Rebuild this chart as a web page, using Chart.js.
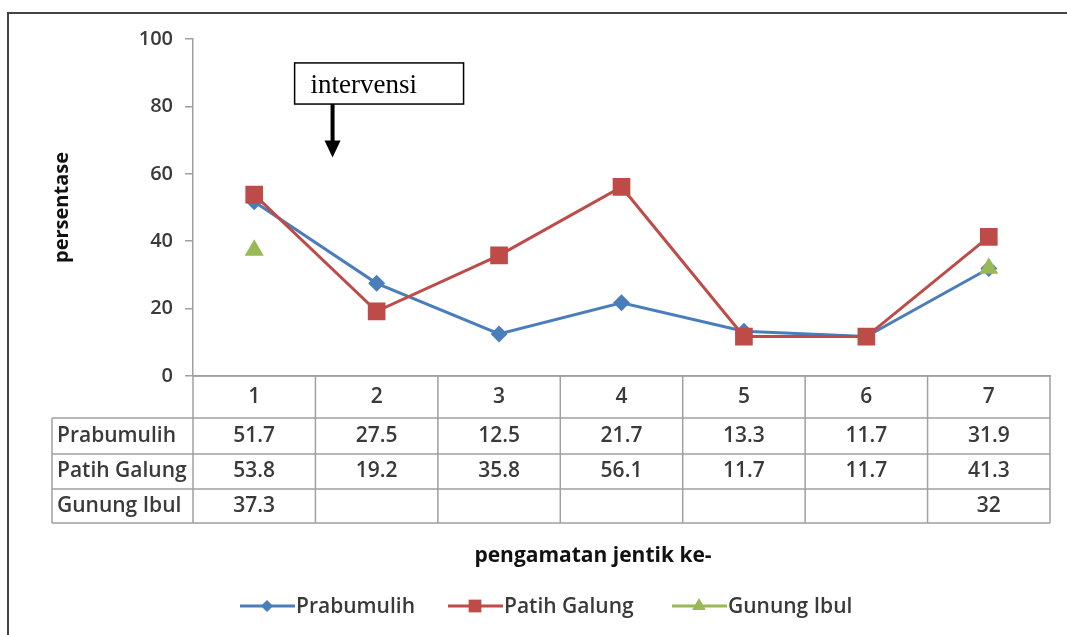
<!DOCTYPE html>
<html lang="en">
<head>
<meta charset="UTF-8">
<title>Persentase pengamatan jentik</title>
<script src="https://cdn.jsdelivr.net/npm/chart.js"></script>
<style>
  html, body { margin: 0; padding: 0; background: #fff; }
  #wrap { width: 1067px; height: 635px; }
</style>
</head>
<body>
<div id="wrap"><canvas id="chart" width="1067" height="635"></canvas></div>
<script>
// data
const categories = ['1', '2', '3', '4', '5', '6', '7'];
const seriesNames = ['Prabumulih', 'Patih Galung', 'Gunung Ibul'];
const prabumulih = [51.7, 27.5, 12.5, 21.7, 13.3, 11.7, 31.9];
const patihGalung = [53.8, 19.2, 35.8, 56.1, 11.7, 11.7, 41.3];
const gunungIbul = [37.3, null, null, null, null, null, 32];
const yTicks = [0, 20, 40, 60, 80, 100];

const FONT = '"Open Sans", Lato, sans-serif';
const TEXT = '#3a3a3a';
const colors = ['#4A7EBB', '#BE4B48', '#98B954'];
const styles = [
    { pointStyle: 'rectRot', radius: 8.5 },
    { pointStyle: 'rect', radius: 12.5 },
    { pointStyle: 'triangle', radius: 11 }
];
const allSeries = [prabumulih, patihGalung, gunungIbul];

// frame, annotation, data table, axis titles and legend
const extras = {
    id: 'extras',
    afterDraw(chart) {
        const ctx = chart.ctx;
        const area = chart.chartArea;
        const xs = chart.scales.x;
        const ys = chart.scales.y;
        const step = (area.right - area.left) / categories.length;
        ctx.save();

        // outer frame
        ctx.strokeStyle = '#444';
        ctx.lineWidth = 2;
        ctx.strokeRect(8, 13, 1100, 700);

        // intervensi box + arrow
        const bx1 = xs.getPixelForValue(0.33), bx2 = xs.getPixelForValue(1.71);
        const by1 = ys.getPixelForValue(92.9), by2 = ys.getPixelForValue(80.7);
        ctx.fillStyle = '#fff';
        ctx.fillRect(bx1, by1, bx2 - bx1, by2 - by1);
        ctx.strokeStyle = '#000';
        ctx.lineWidth = 1.5;
        ctx.strokeRect(bx1, by1, bx2 - bx1, by2 - by1);
        ctx.fillStyle = '#000';
        ctx.font = '27px "Liberation Serif", "DejaVu Serif", serif';
        ctx.textBaseline = 'middle';
        ctx.textAlign = 'left';
        ctx.fillText('intervensi', bx1 + 16, (by1 + by2) / 2 + 2);
        const ax = xs.getPixelForValue(0.64);
        const aTip = ys.getPixelForValue(64.8);
        ctx.lineWidth = 4;
        ctx.beginPath();
        ctx.moveTo(ax, by2);
        ctx.lineTo(ax, aTip - 14);
        ctx.stroke();
        ctx.beginPath();
        ctx.moveTo(ax - 8, aTip - 17);
        ctx.lineTo(ax + 8, aTip - 17);
        ctx.lineTo(ax, aTip);
        ctx.closePath();
        ctx.fill();

        // data table
        const top = area.bottom;
        const rowH = [42, 36, 35, 34];
        const rowY = [top];
        rowH.forEach((h, i) => rowY.push(rowY[i] + h));
        const labelLeft = 52;
        ctx.strokeStyle = '#a0a0a0';
        ctx.lineWidth = 1.5;
        ctx.beginPath();
        ctx.moveTo(area.left, rowY[0]); ctx.lineTo(area.right, rowY[0]);
        for (let r = 1; r < rowY.length; r++) {
            ctx.moveTo(labelLeft, rowY[r]); ctx.lineTo(area.right, rowY[r]);
        }
        for (let c = 0; c <= categories.length; c++) {
            const x = area.left + c * step;
            ctx.moveTo(x, rowY[0]); ctx.lineTo(x, rowY[rowY.length - 1]);
        }
        ctx.moveTo(labelLeft, rowY[1]); ctx.lineTo(labelLeft, rowY[rowY.length - 1]);
        ctx.stroke();

        ctx.fillStyle = TEXT;
        ctx.font = '600 21px ' + FONT;
        ctx.textBaseline = 'middle';
        allSeries.forEach((data, s) => {
            const cy = (rowY[s + 1] + rowY[s + 2]) / 2;
            ctx.textAlign = 'left';
            ctx.fillText(seriesNames[s], labelLeft + 5, cy);
            ctx.textAlign = 'center';
            data.forEach((v, i) => {
                if (v !== null) ctx.fillText(String(v), xs.getPixelForValue(i), cy);
            });
        });

        // x axis title
        ctx.font = 'bold 21px ' + FONT;
        ctx.fillStyle = '#111';
        ctx.textAlign = 'center';
        ctx.fillText('pengamatan jentik ke-', 593, 556);

        // y axis title
        ctx.save();
        ctx.translate(62, (area.top + area.bottom) / 2);
        ctx.rotate(-Math.PI / 2);
        ctx.font = 'bold 20px ' + FONT;
        ctx.fillText('persentase', 0, 0);
        ctx.restore();

        // legend
        const legendX = [240, 448, 672];
        const ly = 606;
        ctx.font = '600 21px ' + FONT;
        ctx.textAlign = 'left';
        seriesNames.forEach((name, s) => {
            const lx = legendX[s];
            ctx.strokeStyle = colors[s];
            ctx.lineWidth = 3;
            ctx.beginPath();
            ctx.moveTo(lx, ly); ctx.lineTo(lx + 55, ly);
            ctx.stroke();
            ctx.fillStyle = colors[s];
            Chart.helpers.drawPoint(ctx, {
                pointStyle: styles[s].pointStyle,
                radius: styles[s].radius * 0.72,
                rotation: 0,
                borderWidth: 0
            }, lx + 27, ly);
            ctx.fillStyle = TEXT;
            ctx.fillText(name, lx + 56, ly + 1);
        });

        ctx.restore();
    }
};

const datasets = allSeries.map((data, s) => ({
    label: seriesNames[s],
    data: data,
    borderColor: colors[s],
    backgroundColor: colors[s],
    borderWidth: 3,
    pointStyle: styles[s].pointStyle,
    pointRadius: styles[s].radius,
    pointBorderWidth: 0,
    pointBackgroundColor: colors[s],
    spanGaps: false,
    tension: 0,
    order: 2 - s
}));

new Chart(document.getElementById('chart'), {
    type: 'line',
    data: { labels: categories, datasets: datasets },
    options: {
        responsive: false,
        animation: false,
        layout: { padding: { top: 39, right: 17, bottom: 0, left: 0 } },
        plugins: { legend: { display: false }, tooltip: { enabled: false } },
        scales: {
            x: {
                offset: true,
                grid: { display: false, drawTicks: false },
                border: { display: true, color: '#a0a0a0', width: 1.5 },
                ticks: { color: TEXT, font: { size: 21, weight: '600', family: FONT }, padding: 8 },
                afterFit(scale) { scale.height = 259; }
            },
            y: {
                min: 0,
                max: 100,
                afterBuildTicks(scale) { scale.ticks = yTicks.map(v => ({ value: v })); },
                grid: { drawOnChartArea: false, drawTicks: true, tickLength: 8, color: '#a0a0a0', lineWidth: 1.5 },
                border: { display: true, color: '#a0a0a0', width: 1.5 },
                ticks: { color: TEXT, font: { size: 20, weight: '600', family: FONT }, padding: 12 },
                afterFit(scale) { scale.width = 193; }
            }
        }
    },
    plugins: [extras]
});
</script>
</body>
</html>
